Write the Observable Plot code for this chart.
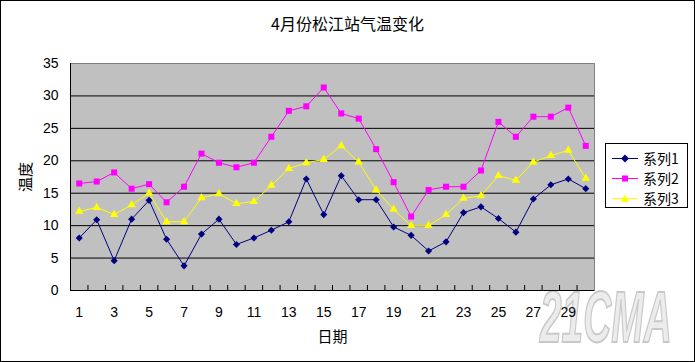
<!DOCTYPE html>
<html><head><meta charset="utf-8">
<script src="https://cdn.jsdelivr.net/npm/d3@7"></script>
<script src="https://cdn.jsdelivr.net/npm/@observablehq/plot@0.6"></script>
<style>
html,body{margin:0;padding:0;background:#fff;}
#wrap{position:relative;width:695px;height:362px;overflow:hidden;background:#fff;}
#border{position:absolute;left:0;top:0;width:695px;height:362px;box-sizing:border-box;border:1px solid #000;pointer-events:none;}
#chart{position:absolute;left:0;top:0;}
#title{position:absolute;left:0;top:13px;width:695px;text-align:center;font:16px "Noto Sans CJK SC",sans-serif;color:#000;line-height:20px;}
#legend{position:absolute;left:605px;top:143px;width:83px;height:65px;box-sizing:border-box;border:1px solid #000;background:#fff;font:14px "Noto Sans CJK SC",sans-serif;}
#legend .row{position:absolute;left:6px;height:20px;display:flex;align-items:center;}
#legend svg{display:block;margin-right:5px;}
#wm{position:absolute;left:540px;top:281px;font:italic bold 72px "Liberation Sans",sans-serif;line-height:1;color:#ececec;-webkit-text-stroke:2px #c9c9c9;transform:scaleX(0.54);transform-origin:0 0;white-space:nowrap;}
</style></head>
<body>
<div id="wrap">
  <div id="wm">21CMA</div>
  <div id="chart"></div>
  <div id="title"></div>
  <div id="legend"></div>
  <div id="border"></div>
</div>
<script>
const titleText = "4月份松江站气温变化";
const xLabel = "日期";
const yLabel = "温度";
const days = d3.range(1, 31);
const xTickLabels = [1,3,5,7,9,11,13,15,17,19,21,23,25,27,29];
const yTicks = [0,5,10,15,20,25,30,35];
const seriesNames = ["系列1","系列2","系列3"];
const seriesColors = ["#000080","#FF00FF","#FFFF00"];
const seriesSymbols = ["diamond2","square","triangle"];
const series1 = [8.1,10.9,4.6,11.0,13.9,7.9,3.8,8.7,11.0,7.1,8.1,9.3,10.6,17.2,11.7,17.7,14.0,14.0,9.8,8.5,6.1,7.5,12.0,12.9,11.1,9.0,14.1,16.3,17.2,15.7];
const series2 = [16.5,16.8,18.2,15.7,16.4,13.6,16.0,21.1,19.7,19.0,19.7,23.7,27.7,28.4,31.3,27.3,26.5,21.8,16.7,11.4,15.5,16.0,16.0,18.5,26.0,23.7,26.8,26.8,28.2,22.3];
const series3 = [12.2,12.8,11.7,13.2,15.0,10.6,10.6,14.3,14.9,13.4,13.7,16.2,18.8,19.7,20.2,22.3,19.8,15.5,12.5,10.0,10.0,11.7,14.2,14.6,17.7,17.0,19.8,20.8,21.6,17.3];
const allSeries = [series1, series2, series3];

const data = allSeries.flatMap((vals, j) => days.map((d, i) => ({day: d, series: seriesNames[j], value: vals[i]})));
const boundaries = d3.range(1.5, 30.5, 1);
const rs = [3.2, 3.4, 3.1];

const chart = Plot.plot({
  width: 695, height: 362,
  marginLeft: 70, marginRight: 101, marginTop: 63, marginBottom: 72,
  style: {background: "transparent", fontFamily: "'Liberation Sans',sans-serif", fontSize: "14px", color: "#000"},
  x: {domain: [0.5, 30.5]},
  y: {domain: [0, 35]},
  color: {domain: seriesNames, range: seriesColors},
  symbol: {domain: seriesNames, range: seriesSymbols},
  marks: [
    Plot.frame({fill: "#c0c0c0", stroke: "#808080"}),
    Plot.gridY(yTicks.filter(v => v > 0 && v < 35), {stroke: "#000", strokeOpacity: 1}),
    Plot.ruleX([0.5], {stroke: "#000"}),
    Plot.ruleY([0], {stroke: "#000"}),
    Plot.axisX(boundaries, {tickSize: -5, tickFormat: () => "", label: null, stroke: "#000"}),
    Plot.axisX(xTickLabels, {tickSize: 0, tickPadding: 17, label: null, fontSize: 14}),
    Plot.axisX({ticks: [], label: xLabel, labelAnchor: "center", labelArrow: false, labelOffset: 51, fontSize: 15, fontFamily: "'Noto Sans CJK SC',sans-serif"}),
    Plot.axisY(yTicks, {tickSize: 0, tickPadding: 12, label: null, fontSize: 14}),
    Plot.axisY({ticks: [], label: yLabel, labelAnchor: "center", labelArrow: false, labelOffset: 50, fontSize: 15, fontFamily: "'Noto Sans CJK SC',sans-serif"}),
    ...seriesNames.map(name => Plot.line(data.filter(d => d.series === name), {x: "day", y: "value", stroke: "series", strokeWidth: 1})),
    ...seriesNames.map((name, j) => Plot.dot(data.filter(d => d.series === name), {x: "day", y: "value", fill: "series", symbol: "series", r: rs[j], stroke: "none"}))
  ]
});
document.getElementById("chart").appendChild(chart);
document.getElementById("title").textContent = titleText;

// legend
const legend = document.getElementById("legend");
const shapes = [
  c => `<polygon points="13,6.5 17,10.5 13,14.5 9,10.5" fill="${c}"/>`,
  c => `<rect x="10" y="7.5" width="6" height="6" fill="${c}"/>`,
  c => `<polygon points="13,6.5 17,14 9,14" fill="${c}"/>`
];
seriesNames.forEach((name, j) => {
  const row = document.createElement("div");
  row.className = "row";
  row.style.top = (4 + j * 20) + "px";
  row.innerHTML = `<svg width="26" height="20"><line x1="0" x2="26" y1="10.5" y2="10.5" stroke="${seriesColors[j]}" stroke-width="1"/>${shapes[j](seriesColors[j])}</svg><span>${name}</span>`;
  legend.appendChild(row);
});
</script>
</body></html>
